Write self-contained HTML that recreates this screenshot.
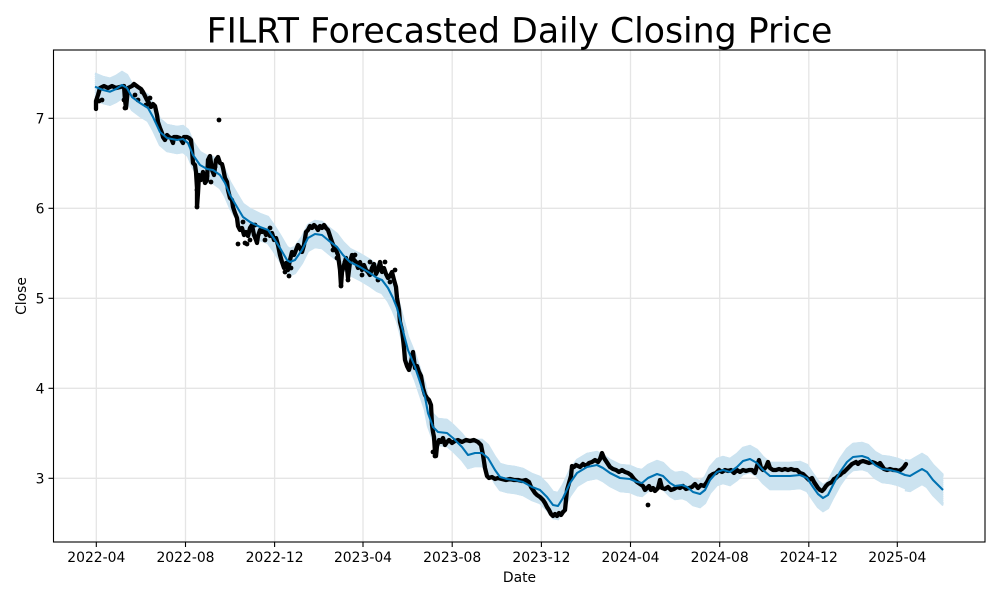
<!DOCTYPE html>
<html>
<head>
<meta charset="utf-8">
<style>
  html, body { margin: 0; padding: 0; background: #ffffff; }
  svg { display: block; }
  text { font-family: "DejaVu Sans", "Liberation Sans", sans-serif; fill: #000; }
</style>
</head>
<body>
<svg width="1000" height="600" viewBox="0 0 1000 600" xmlns="http://www.w3.org/2000/svg">
  <rect x="0" y="0" width="1000" height="600" fill="#ffffff"/>
  <defs>
    <path id="f" fill="none" d="M95,86.7 L103,90 L110,91.7 L116,89 L122,85 L127,88 L132,97 L140,103 L148,108 L153,117 L160,132 L167,138 L177,140 L183,139 L188,143 L193,155 L200,165 L207,169 L213,170 L220,175 L225,183 L230,195 L237,207 L243,217 L250,222 L260,227 L268,230 L273,237 L280,248 L287,260 L290,262 L295,260 L302,250 L308,238 L315,234 L322,235 L328,240 L337,247 L343,255 L350,262 L360,267 L370,273 L377,278 L382,280 L388,288 L393,298 L397,308 L403,331 L408,350 L415,367 L420,382 L425,397 L428,413 L433,427 L438,432 L447,433 L453,438 L462,447 L468,455 L475,453 L482,453 L488,458 L495,470 L500,477 L507,479 L515,480 L523,482 L532,487 L540,490 L547,497 L553,505 L558,506 L563,498 L570,483 L577,473 L587,467 L597,465 L603,468 L610,473 L620,478 L630,479 L637,482 L642,483 L648,478 L657,474 L663,476 L670,483 L675,486 L682,485 L687,487 L693,492 L700,494 L705,490 L710,480 L717,472 L723,470 L730,472 L737,467 L743,461 L750,459 L757,463 L763,470 L770,476 L780,476 L790,476 L800,475 L807,478 L813,487 L818,494 L823,498 L828,495 L833,485 L840,472 L847,462 L853,457 L862,456 L868,458 L875,465 L882,469 L890,470 L898,472 L905,475 L910,476 L915,473 L922,469 L927,472 L933,480 L943,490"/>
    <path id="g" fill="none" d="M905,475 L910,476 L915,473 L922,469 L927,472 L933,480 L943,490"/>
  </defs>

  <!-- grid -->
  <g stroke="#e5e5e5" stroke-width="1.3">
    <line x1="96.3" y1="50" x2="96.3" y2="542"/>
    <line x1="185.5" y1="50" x2="185.5" y2="542"/>
    <line x1="274.6" y1="50" x2="274.6" y2="542"/>
    <line x1="363.0" y1="50" x2="363.0" y2="542"/>
    <line x1="452.2" y1="50" x2="452.2" y2="542"/>
    <line x1="541.4" y1="50" x2="541.4" y2="542"/>
    <line x1="630.5" y1="50" x2="630.5" y2="542"/>
    <line x1="719.7" y1="50" x2="719.7" y2="542"/>
    <line x1="808.8" y1="50" x2="808.8" y2="542"/>
    <line x1="897.3" y1="50" x2="897.3" y2="542"/>
    <line x1="53.5" y1="118.3" x2="985" y2="118.3"/>
    <line x1="53.5" y1="208.3" x2="985" y2="208.3"/>
    <line x1="53.5" y1="298.3" x2="985" y2="298.3"/>
    <line x1="53.5" y1="388.3" x2="985" y2="388.3"/>
    <line x1="53.5" y1="478.3" x2="985" y2="478.3"/>
  </g>

  <!-- uncertainty band -->
  <g stroke="#b7d7eb" stroke-width="1.2" fill="none">
    <use href="#f" transform="translate(0,-13.5)"/>
    <use href="#f" transform="translate(0,13.5)"/>
    <use href="#g" transform="translate(0,-15.5)"/>
    <use href="#g" transform="translate(0,15.5)"/>
  </g>
  <g stroke="#cce3f0" stroke-width="2.4" fill="none">
    <use href="#f" transform="translate(0,-13)"/>
    <use href="#f" transform="translate(0,-11)"/>
    <use href="#f" transform="translate(0,-9)"/>
    <use href="#f" transform="translate(0,-7)"/>
    <use href="#f" transform="translate(0,-5)"/>
    <use href="#f" transform="translate(0,-3)"/>
    <use href="#f" transform="translate(0,-1)"/>
    <use href="#f" transform="translate(0,1)"/>
    <use href="#f" transform="translate(0,3)"/>
    <use href="#f" transform="translate(0,5)"/>
    <use href="#f" transform="translate(0,7)"/>
    <use href="#f" transform="translate(0,9)"/>
    <use href="#f" transform="translate(0,11)"/>
    <use href="#f" transform="translate(0,13)"/>
    <use href="#g" transform="translate(0,-15)"/>
    <use href="#g" transform="translate(0,-14)"/>
    <use href="#g" transform="translate(0,14)"/>
    <use href="#g" transform="translate(0,15)"/>
  </g>

  <!-- observed data -->
  <path fill="none" stroke="#000" stroke-width="4.3" stroke-linejoin="round" stroke-linecap="round"
    d="M96,109 L96,101 L98,95 L100,88 L104,86 L108,88 L112,86 L116,88 L120,87 L124,86 L125,100 L126,108 L127,98 L128,88 L132,86 L134,84 L138,87 L141,89 L143,92 L145,96 L147,100 L149,103 L151,107 L153,104 L155,106 L157,115 L158,122 L160,128 L162,133 L163,137 L165,140 L167,135 L169,137 L171,138 L173,143 L174,137 L177,137 L180,138 L183,143 L184,137 L187,137 L189,138 L191,140 L192,150 L193,163 L195,165 L196,172 L197,188 L197,207 L198,193 L199,175 L201,180 L203,172 L205,183 L207,180 L208,160 L210,156 L212,170 L214,175 L216,160 L218,157 L220,163 L222,164 L223,168 L225,178 L227,182 L228,190 L230,198 L232,200 L233,207 L235,213 L237,218 L238,226 L240,230 L242,228 L244,235 L246,232 L248,236 L250,228 L252,225 L254,235 L256,240 L257,243 L258,236 L260,230 L262,232 L264,230 L266,235 L268,232 L270,236 L272,233 L274,240 L276,238 L278,245 L280,255 L282,262 L284,268 L286,263 L288,270 L290,260 L292,252 L294,255 L296,250 L298,245 L300,248 L302,252 L304,245 L306,232 L308,230 L310,226 L312,228 L314,225 L316,227 L318,230 L320,226 L322,228 L324,225 L326,228 L328,230 L330,236 L332,242 L334,247 L336,250 L338,255 L340,270 L341,286 L342,272 L344,265 L346,258 L348,278 L350,262 L352,255 L354,260 L356,262 L358,268 L360,262 L362,270 L364,265 L366,270 L368,272 L370,275 L372,268 L374,264 L376,274 L378,270 L380,262 L382,272 L384,268 L386,274 L388,278 L390,276 L392,272 L394,280 L396,287 L397,298 L399,310 L400,322 L402,330 L403,338 L404,348 L405,360 L407,366 L409,370 L411,362 L413,352 L415,368 L417,366 L419,372 L421,376 L423,388 L425,395 L427,398 L429,400 L431,405 L432,425 L433,432 L434,437 L435,452 L436,456 L437,446 L439,440 L441,442 L443,438 L445,445 L447,442 L449,440 L452,443 L455,441 L458,440 L462,442 L466,440 L470,441 L474,440 L478,442 L481,445 L483,455 L485,468 L487,476 L489,478 L492,477 L495,479 L498,478 L502,479 L506,480 L510,479 L514,480 L518,480 L522,481 L526,480 L529,482 L531,487 L533,490 L535,493 L537,495 L540,497 L543,500 L545,503 L547,507 L549,510 L551,514 L553,516 L555,514 L557,516 L559,513 L561,515 L563,512 L565,510 L566,500 L567,490 L569,483 L571,476 L572,466 L574,467 L576,465 L578,466 L580,467 L583,464 L586,466 L589,463 L592,462 L595,460 L598,462 L600,459 L602,453 L604,458 L606,461 L608,464 L610,467 L613,469 L616,470 L619,472 L622,470 L625,472 L628,473 L631,475 L634,479 L637,482 L640,484 L643,486 L645,490 L647,488 L649,486 L651,490 L653,488 L655,491 L658,488 L660,480 L662,488 L665,489 L668,487 L671,490 L674,489 L677,487 L680,488 L683,486 L686,489 L689,488 L692,487 L695,484 L698,488 L701,485 L704,486 L707,482 L710,476 L713,474 L716,473 L719,470 L722,472 L725,470 L728,471 L731,470 L734,473 L737,470 L740,472 L743,470 L746,471 L749,470 L752,470 L755,473 L757,466 L759,460 L761,468 L763,470 L766,467 L768,462 L770,468 L773,470 L776,470 L779,469 L782,470 L785,469 L788,470 L791,469 L794,470 L797,470 L800,473 L803,474 L806,477 L809,480 L812,478 L814,482 L816,485 L818,488 L820,490 L822,491 L824,489 L826,486 L828,484 L830,483 L832,482 L834,479 L836,478 L838,476 L840,475 L842,473 L844,472 L846,470 L848,468 L850,466 L852,464 L854,463 L856,462 L858,464 L860,462 L863,461 L866,462 L869,463 L872,462 L875,463 L878,465 L880,463 L882,466 L884,469 L887,470 L890,469 L893,470 L896,470 L899,471 L902,469 L904,467 L906,464"/>
  <g fill="#000">
    <circle cx="219" cy="120" r="2.4"/>
    <circle cx="197" cy="207" r="2.4"/>
    <circle cx="197" cy="190" r="2.4"/>
    <circle cx="238" cy="244" r="2.4"/>
    <circle cx="247" cy="244" r="2.4"/>
    <circle cx="341" cy="286" r="2.4"/>
    <circle cx="648" cy="505" r="2.4"/>
    <circle cx="125" cy="108" r="2.4"/>
    <circle cx="124" cy="100" r="2.4"/>
    <circle cx="433" cy="452" r="2.4"/>
    <circle cx="435" cy="456" r="2.4"/>
    <circle cx="99" cy="101" r="2.4"/>
    <circle cx="102" cy="100" r="2.4"/>
    <circle cx="135" cy="95" r="2.4"/>
    <circle cx="138" cy="100" r="2.4"/>
    <circle cx="142" cy="92" r="2.4"/>
    <circle cx="146" cy="105" r="2.4"/>
    <circle cx="150" cy="98" r="2.4"/>
    <circle cx="243" cy="222" r="2.4"/>
    <circle cx="250" cy="240" r="2.4"/>
    <circle cx="255" cy="225" r="2.4"/>
    <circle cx="265" cy="240" r="2.4"/>
    <circle cx="270" cy="228" r="2.4"/>
    <circle cx="245" cy="243" r="2.4"/>
    <circle cx="285" cy="272" r="2.4"/>
    <circle cx="289" cy="276" r="2.4"/>
    <circle cx="291" cy="268" r="2.4"/>
    <circle cx="333" cy="250" r="2.4"/>
    <circle cx="337" cy="258" r="2.4"/>
    <circle cx="345" cy="262" r="2.4"/>
    <circle cx="348" cy="280" r="2.4"/>
    <circle cx="355" cy="255" r="2.4"/>
    <circle cx="362" cy="275" r="2.4"/>
    <circle cx="370" cy="262" r="2.4"/>
    <circle cx="378" cy="280" r="2.4"/>
    <circle cx="385" cy="262" r="2.4"/>
    <circle cx="390" cy="282" r="2.4"/>
    <circle cx="395" cy="270" r="2.4"/>
    <circle cx="207" cy="176" r="2.4"/>
    <circle cx="211" cy="182" r="2.4"/>
    <circle cx="215" cy="167" r="2.4"/>
  </g>

  <!-- forecast line -->
  <use href="#f" stroke="#0072B2" stroke-width="2.1" stroke-linejoin="round"/>

  <!-- axes frame -->
  <rect x="53.5" y="50" width="931.5" height="492" fill="none" stroke="#000" stroke-width="1.1"/>

  <!-- ticks -->
  <g stroke="#000" stroke-width="1.1">
    <line x1="96.3" y1="542" x2="96.3" y2="547"/>
    <line x1="185.5" y1="542" x2="185.5" y2="547"/>
    <line x1="274.6" y1="542" x2="274.6" y2="547"/>
    <line x1="363.0" y1="542" x2="363.0" y2="547"/>
    <line x1="452.2" y1="542" x2="452.2" y2="547"/>
    <line x1="541.4" y1="542" x2="541.4" y2="547"/>
    <line x1="630.5" y1="542" x2="630.5" y2="547"/>
    <line x1="719.7" y1="542" x2="719.7" y2="547"/>
    <line x1="808.8" y1="542" x2="808.8" y2="547"/>
    <line x1="897.3" y1="542" x2="897.3" y2="547"/>
    <line x1="48.5" y1="118.3" x2="53.5" y2="118.3"/>
    <line x1="48.5" y1="208.3" x2="53.5" y2="208.3"/>
    <line x1="48.5" y1="298.3" x2="53.5" y2="298.3"/>
    <line x1="48.5" y1="388.3" x2="53.5" y2="388.3"/>
    <line x1="48.5" y1="478.3" x2="53.5" y2="478.3"/>
  </g>

  <!-- tick labels -->
  <g font-size="13.9" text-anchor="middle">
    <text x="96.3" y="562">2022-04</text>
    <text x="185.5" y="562">2022-08</text>
    <text x="274.6" y="562">2022-12</text>
    <text x="363.0" y="562">2023-04</text>
    <text x="452.2" y="562">2023-08</text>
    <text x="541.4" y="562">2023-12</text>
    <text x="630.5" y="562">2024-04</text>
    <text x="719.7" y="562">2024-08</text>
    <text x="808.8" y="562">2024-12</text>
    <text x="897.3" y="562">2025-04</text>
  </g>
  <g font-size="13.9" text-anchor="end">
    <text x="44.5" y="123.3">7</text>
    <text x="44.5" y="213.3">6</text>
    <text x="44.5" y="303.3">5</text>
    <text x="44.5" y="393.3">4</text>
    <text x="44.5" y="483.3">3</text>
  </g>

  <!-- axis labels -->
  <text x="519.5" y="582" font-size="13.9" text-anchor="middle">Date</text>
  <text transform="translate(26,296) rotate(-90)" x="0" y="0" font-size="13.9" text-anchor="middle">Close</text>

  <!-- title -->
  <text x="519.5" y="42.5" font-size="34.7" text-anchor="middle">FILRT Forecasted Daily Closing Price</text>
</svg>
</body>
</html>
